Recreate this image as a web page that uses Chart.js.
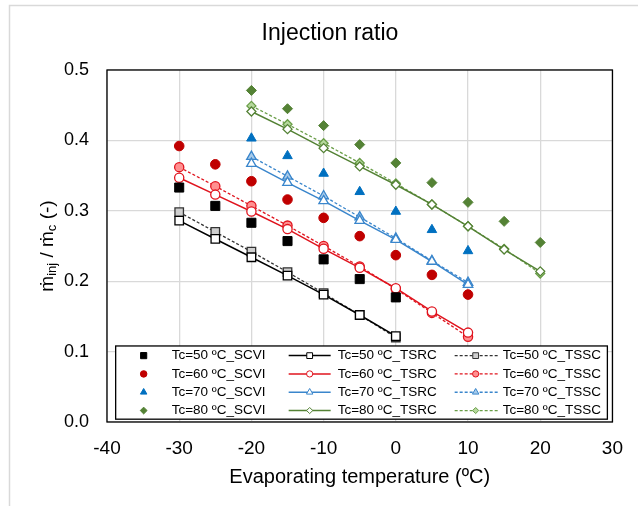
<!DOCTYPE html>
<html>
<head>
<meta charset="utf-8">
<script src="https://cdn.jsdelivr.net/npm/chart.js@4.4.1/dist/chart.umd.min.js"></script>
<style>
    html, body { margin: 0; padding: 0; background: #fff; }
    #wrap { width: 638px; height: 506px; }
</style>
</head>
<body>
<div id="wrap"><canvas id="chart" width="638" height="506"></canvas></div>
<script>
// evaporating temperatures (ºC) per condensing temperature
const evap50 = [-30, -25, -20, -15, -10, -5, 0];
const evap60 = [-30, -25, -20, -15, -10, -5, 0, 5, 10];
const evap70 = [-20, -15, -10, -5, 0, 5, 10];
const evap80 = [-20, -15, -10, -5, 0, 5, 10, 15, 20];

// injection ratio
const scvi50 = [0.333, 0.307, 0.283, 0.257, 0.231, 0.203, 0.177];
const tsrc50 = [0.286, 0.260, 0.234, 0.208, 0.181, 0.152, 0.122];
const tssc50 = [0.298, 0.270, 0.242, 0.213, 0.183, 0.152, 0.120];

const scvi60 = [0.392, 0.366, 0.342, 0.316, 0.290, 0.264, 0.237, 0.209, 0.181];
const tsrc60 = [0.347, 0.323, 0.299, 0.274, 0.246, 0.219, 0.190, 0.157, 0.127];
const tssc60 = [0.362, 0.335, 0.307, 0.279, 0.250, 0.221, 0.189, 0.155, 0.121];

const scvi70 = [0.403, 0.378, 0.353, 0.327, 0.299, 0.273, 0.243];
const tsrc70 = [0.367, 0.340, 0.314, 0.286, 0.259, 0.228, 0.195];
const tssc70 = [0.377, 0.349, 0.321, 0.291, 0.261, 0.229, 0.198];

const scvi80 = [0.471, 0.445, 0.421, 0.394, 0.368, 0.340, 0.312, 0.285, 0.255];
const tsrc80 = [0.441, 0.416, 0.389, 0.363, 0.337, 0.309, 0.278, 0.245, 0.214];
const tssc80 = [0.449, 0.423, 0.396, 0.368, 0.339, 0.309, 0.278, 0.246, 0.211];

const xTicks = [-40, -30, -20, -10, 0, 10, 20, 30];
const yTicks = [0.0, 0.1, 0.2, 0.3, 0.4, 0.5];

const FONT = 'Liberation Sans, Arial, sans-serif';

const pts = (xs, ys) => xs.map((x, i) => ({ x, y: ys[i] }));

const scvi = (label, xs, ys, color, style, r) => ({
    label, data: pts(xs, ys), showLine: false,
    pointStyle: style, pointRadius: r, pointHoverRadius: r,
    pointBackgroundColor: color, pointBorderColor: color, pointBorderWidth: 1,
    borderColor: color, backgroundColor: color
});

const tsrc = (label, xs, ys, color, style, r) => ({
    label, data: pts(xs, ys), showLine: true, borderColor: color, borderWidth: 1.5,
    pointStyle: style, pointRadius: r, pointHoverRadius: r,
    pointBackgroundColor: '#ffffff', pointBorderColor: color, pointBorderWidth: 1.3,
    backgroundColor: '#ffffff', tension: 0
});

const tssc = (label, xs, ys, color, fill, style, r) => ({
    label, data: pts(xs, ys), showLine: true, borderColor: color, borderWidth: 1.3,
    borderDash: [3, 2], pointStyle: style, pointRadius: r, pointHoverRadius: r,
    pointBackgroundColor: fill, pointBorderColor: color, pointBorderWidth: 1.3,
    backgroundColor: fill, tension: 0
});

// column-major like the legend box: SCVI, TSRC, TSSC
const datasets = [
    scvi('Tc=50 ºC_SCVI', evap50, scvi50, '#000000', 'rect', 6.4),
    scvi('Tc=60 ºC_SCVI', evap60, scvi60, '#C00000', 'circle', 4.8),
    scvi('Tc=70 ºC_SCVI', evap70, scvi70, '#0070C0', 'triangle', 5.5),
    scvi('Tc=80 ºC_SCVI', evap80, scvi80, '#548235', 'rectRot', 5),
    tsrc('Tc=50 ºC_TSRC', evap50, tsrc50, '#000000', 'rect', 6),
    tsrc('Tc=60 ºC_TSRC', evap60, tsrc60, '#E0141E', 'circle', 4.6),
    tsrc('Tc=70 ºC_TSRC', evap70, tsrc70, '#3A86CC', 'triangle', 5.5),
    tsrc('Tc=80 ºC_TSRC', evap80, tsrc80, '#548235', 'rectRot', 4.5),
    tssc('Tc=50 ºC_TSSC', evap50, tssc50, '#333333', '#D0D0D0', 'rect', 6),
    tssc('Tc=60 ºC_TSSC', evap60, tssc60, '#E0141E', '#FF9090', 'circle', 4.6),
    tssc('Tc=70 ºC_TSSC', evap70, tssc70, '#3A86CC', '#A8CBEA', 'triangle', 5.5),
    tssc('Tc=80 ºC_TSSC', evap80, tssc80, '#6A9E48', '#B5D89C', 'rectRot', 4.5)
];

// white page with the light outer frame
const background = {
    id: 'background',
    beforeDraw(chart) {
        const ctx = chart.ctx;
        ctx.save();
        ctx.fillStyle = '#ffffff';
        ctx.fillRect(0, 0, chart.width, chart.height);
        ctx.strokeStyle = '#d9d9d9';
        ctx.lineWidth = 1.5;
        ctx.beginPath();
        ctx.moveTo(9.5, chart.height);
        ctx.lineTo(9.5, 5.5);
        ctx.lineTo(chart.width, 5.5);
        ctx.stroke();
        ctx.restore();
    }
};

// black box round the plot area
const plotFrame = {
    id: 'plotFrame',
    beforeDatasetsDraw(chart) {
        const { ctx, chartArea: a } = chart;
        ctx.save();
        ctx.strokeStyle = '#000000';
        ctx.lineWidth = 1.3;
        ctx.strokeRect(a.left, a.top, a.right - a.left, a.bottom - a.top);
        ctx.restore();
    }
};

// y title with subscripts: m-dot inj / m-dot c (-)
const yTitle = {
    id: 'yTitle',
    afterDraw(chart) {
        const ctx = chart.ctx;
        const parts = [
            ['\u1E41', false], ['inj', true], [' / \u1E41', false], ['c', true], [' (-)', false]
        ];
        const big = '19px ' + FONT, small = '13px ' + FONT;
        ctx.save();
        let total = 0;
        parts.forEach(([t, sub]) => { ctx.font = sub ? small : big; total += ctx.measureText(t).width; });
        const a = chart.chartArea;
        ctx.translate(46, (a.top + a.bottom) / 2);
        ctx.rotate(-Math.PI / 2);
        ctx.fillStyle = '#000000';
        ctx.textBaseline = 'alphabetic';
        let x = -total / 2;
        parts.forEach(([t, sub]) => {
            ctx.font = sub ? small : big;
            ctx.fillText(t, x, sub ? 10 : 6.5);
            x += ctx.measureText(t).width;
        });
        ctx.restore();
    }
};

// legend box inside the plot, 3 columns x 4 rows
const legendBox = {
    id: 'legendBox',
    afterDraw(chart) {
        const ctx = chart.ctx;
        const x = chart.scales.x, y = chart.scales.y;
        const left = x.getPixelForValue(-38.8), right = x.getPixelForValue(29.3);
        const top = y.getPixelForValue(0.108), bottom = y.getPixelForValue(0.004);
        ctx.save();
        ctx.fillStyle = '#ffffff';
        ctx.fillRect(left, top, right - left, bottom - top);
        ctx.strokeStyle = '#000000';
        ctx.lineWidth = 1.3;
        ctx.strokeRect(left, top, right - left, bottom - top);

        const rowH = (bottom - top) / 4;
        const cols = [
            { marker: left + 28, line: null, text: left + 56 },
            { marker: left + 194, line: [left + 173, left + 215], text: left + 222 },
            { marker: left + 360, line: [left + 339, left + 382], text: left + 387 }
        ];
        ctx.font = '13.5px ' + FONT;
        ctx.textBaseline = 'middle';
        chart.data.datasets.forEach((ds, i) => {
            const col = cols[Math.floor(i / 4)];
            const cy = top + rowH * (i % 4 + 0.5) + 0.5;
            if (col.line) {
                ctx.strokeStyle = ds.borderColor;
                ctx.lineWidth = ds.borderWidth;
                ctx.setLineDash(ds.borderDash || []);
                ctx.beginPath();
                ctx.moveTo(col.line[0], cy);
                ctx.lineTo(col.line[1], cy);
                ctx.stroke();
                ctx.setLineDash([]);
            }
            ctx.fillStyle = ds.pointBackgroundColor;
            ctx.strokeStyle = ds.pointBorderColor;
            ctx.lineWidth = 1;
            Chart.helpers.drawPoint(ctx, {
                pointStyle: ds.pointStyle, radius: ds.pointRadius * 0.68, rotation: 0, borderWidth: 1
            }, col.marker, cy);
            ctx.fillStyle = '#000000';
            ctx.fillText(ds.label, col.text, cy);
        });
        ctx.restore();
    }
};

new Chart(document.getElementById('chart'), {
    type: 'scatter',
    data: { datasets },
    options: {
        responsive: false,
        animation: false,
        devicePixelRatio: 1,
        // left padding only moves the title's centre; the y scale width makes up the rest
        layout: { padding: { left: 40, right: 18, top: 0, bottom: 0 } },
        plugins: {
            legend: { display: false },
            tooltip: { enabled: false },
            title: {
                display: true,
                text: 'Injection ratio',
                color: '#000000',
                font: { family: FONT, size: 23, weight: 'normal' },
                padding: { top: 20, bottom: 22.4 }
            }
        },
        scales: {
            x: {
                type: 'linear', min: -40, max: 30,
                afterBuildTicks: s => { s.ticks = xTicks.map(v => ({ value: v })); },
                afterFit: s => { s.height = 84; },
                grid: { color: '#d9d9d9', lineWidth: 1.3, drawTicks: false },
                border: { display: false },
                ticks: { color: '#000000', padding: 15, maxRotation: 0, font: { family: FONT, size: 19 } },
                title: {
                    display: true, text: 'Evaporating temperature (ºC)', color: '#000000',
                    font: { family: FONT, size: 20 }, padding: { top: 0, bottom: 17 }
                }
            },
            y: {
                type: 'linear', min: 0, max: 0.5,
                afterBuildTicks: s => { s.ticks = yTicks.map(v => ({ value: v })); },
                afterFit: s => { s.width = 67; },
                grid: { color: '#d9d9d9', lineWidth: 1.3, drawTicks: false },
                border: { display: false },
                ticks: {
                    color: '#000000', padding: 18, font: { family: FONT, size: 18 },
                    callback: v => v.toFixed(1)
                }
            }
        }
    },
    plugins: [background, plotFrame, yTitle, legendBox]
});
</script>
</body>
</html>
